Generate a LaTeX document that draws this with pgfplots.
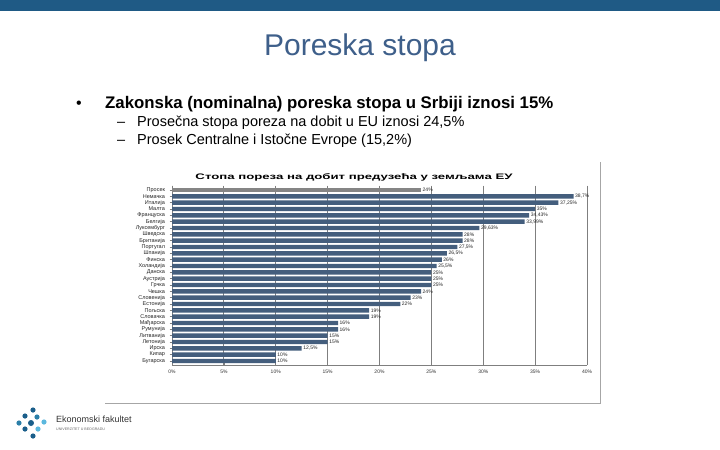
\documentclass[border=0pt]{standalone}
\usepackage{pgfplots}
\pgfplotsset{compat=1.18}
\usepackage{pgfplotstable}
\usepackage{fontspec}
\setmainfont{Liberation Sans}
\definecolor{band}{HTML}{1F5A85}
\definecolor{ttl}{HTML}{3E5F8A}
\definecolor{barc}{HTML}{445E7D}
\definecolor{avgc}{HTML}{858585}
\definecolor{gridc}{HTML}{7F7F7F}
\definecolor{dk}{HTML}{1A5E8A}
\definecolor{md}{HTML}{2B7FA8}
\definecolor{lt}{HTML}{5BB8DE}

\pgfplotstableread{
i v lab
1 24 24
}\avgdata
\pgfplotstableread{
i v lab
2 38.7 38,7
3 37.25 37,25
4 35 35
5 34.43 34,43
6 33.99 33,99
7 29.63 29,63
8 28 28
9 28 28
10 27.5 27,5
11 26.5 26,5
12 26 26
13 25.5 25,5
14 25 25
15 25 25
16 25 25
17 24 24
18 23 23
19 22 22
20 19 19
21 19 19
22 16 16
23 16 16
24 15 15
25 15 15
26 12.5 12,5
27 10 10
28 10 10
}\eudata

\begin{document}
\begin{tikzpicture}
\path[use as bounding box] (0,0) rectangle (720bp,-450bp);
\fill[white] (0,0) rectangle (720bp,-450bp);
% top band
\fill[band] (0,0) rectangle (720bp,-11bp);
% title
\node[text=ttl, font=\fontsize{30bp}{34bp}\selectfont, anchor=base] at (360bp,-55bp) {Poreska stopa};
% bullets
\node[font=\fontsize{16bp}{18bp}\selectfont, anchor=base west, inner sep=0pt] at (76bp,-108bp) {•};
\node[font=\fontsize{16.8bp}{19bp}\selectfont\bfseries, anchor=base west, inner sep=0pt] at (105bp,-108bp) {Zakonska (nominalna) poreska stopa u Srbiji iznosi 15\%};
\node[font=\fontsize{14.5bp}{17bp}\selectfont, anchor=base west, inner sep=0pt] at (117bp,-126bp) {–};
\node[font=\fontsize{14.5bp}{17bp}\selectfont, anchor=base west, inner sep=0pt] at (137bp,-126bp) {Prosečna stopa poreza na dobit u EU iznosi 24,5\%};
\node[font=\fontsize{14.5bp}{17bp}\selectfont, anchor=base west, inner sep=0pt] at (117bp,-144bp) {–};
\node[font=\fontsize{14.5bp}{17bp}\selectfont, anchor=base west, inner sep=0pt] at (137bp,-144bp) {Prosek Centralne i Istočne Evrope (15,2\%)};
% chart frame
\draw[gray!70, line width=1bp] (105bp,-403bp) -- (600bp,-403bp) -- (600bp,-162bp);
% chart title
\node[font=\fontsize{8bp}{9bp}\selectfont\bfseries, anchor=base, inner sep=0pt] at (354bp,-179bp) {\resizebox{317bp}{\height}{Стопа пореза на добит предузећа у земљама ЕУ}};

\begin{axis}[
  at={(172bp,-365.4bp)}, anchor=south west,
  width=415bp, height=179.8bp, scale only axis,
  xmin=0, xmax=40, ymin=0.3, ymax=28.7,
  y dir=reverse,
  clip=false,
  axis x line*=bottom, axis y line*=left,
  axis line style={gridc, line width=0.9bp, -},
  xtick={0,5,...,40},
  xmajorgrids, grid style={gridc, line width=0.9bp},
  xticklabel={\pgfmathprintnumber{\tick}\%},
  /pgf/number format/assume math mode=true,
  xticklabel style={font=\fontsize{5bp}{6bp}\selectfont, text=black!80, yshift=-1bp},
  ytick={1,...,28},
  yticklabels={Просек,Немачка,Италија,Малта,Француска,Белгија,Луксембург,Шведска,Британија,Португал,Шпанија,Финска,Холандија,Данска,Аустрија,Грчка,Чешка,Словенија,Естонија,Пољска,Словачка,Мађарска,Румунија,Литванија,Летонија,Ирска,Кипар,Бугарска},
  yticklabel style={font=\fontsize{5.5bp}{6bp}\selectfont, text=black!85, xshift=-1bp},
  major tick length=2.5bp,
  tick style={gridc, line width=0.6bp},
  xbar, bar width=4.4bp,
  nodes near coords={\pgfplotspointmeta\%},
  every node near coord/.append style={anchor=west, font=\fontsize{5bp}{6bp}\selectfont, text=black!85, inner sep=1.5bp},
]
\addplot[fill=avgc, draw=none, bar shift=0pt, point meta=explicit symbolic] table[x=v, y=i, meta=lab] {\avgdata};
\addplot[fill=barc, draw=none, bar shift=0pt, point meta=explicit symbolic] table[x=v, y=i, meta=lab] {\eudata};
\end{axis}

% logo
\fill[dk] (33bp,-410bp) circle (2.6bp);
\fill[dk] (25bp,-416bp) circle (2.6bp);
\fill[md] (37bp,-417bp) circle (2.6bp);
\fill[md] (19bp,-423bp) circle (2.6bp);
\fill[dk] (31bp,-423bp) circle (3bp);
\fill[lt] (44bp,-422bp) circle (2.6bp);
\fill[dk] (25bp,-429bp) circle (2.6bp);
\fill[lt] (38bp,-429bp) circle (2.6bp);
\fill[dk] (33bp,-436bp) circle (2.6bp);
\node[font=\fontsize{9bp}{10bp}\selectfont, text=black!80, anchor=base west, inner sep=0pt] at (56bp,-422bp) {Ekonomski fakultet};
\node[font=\fontsize{3.6bp}{4bp}\selectfont, text=black!60, anchor=base west, inner sep=0pt] at (56bp,-430bp) {UNIVERZITET U BEOGRADU};
\end{tikzpicture}
\end{document}
